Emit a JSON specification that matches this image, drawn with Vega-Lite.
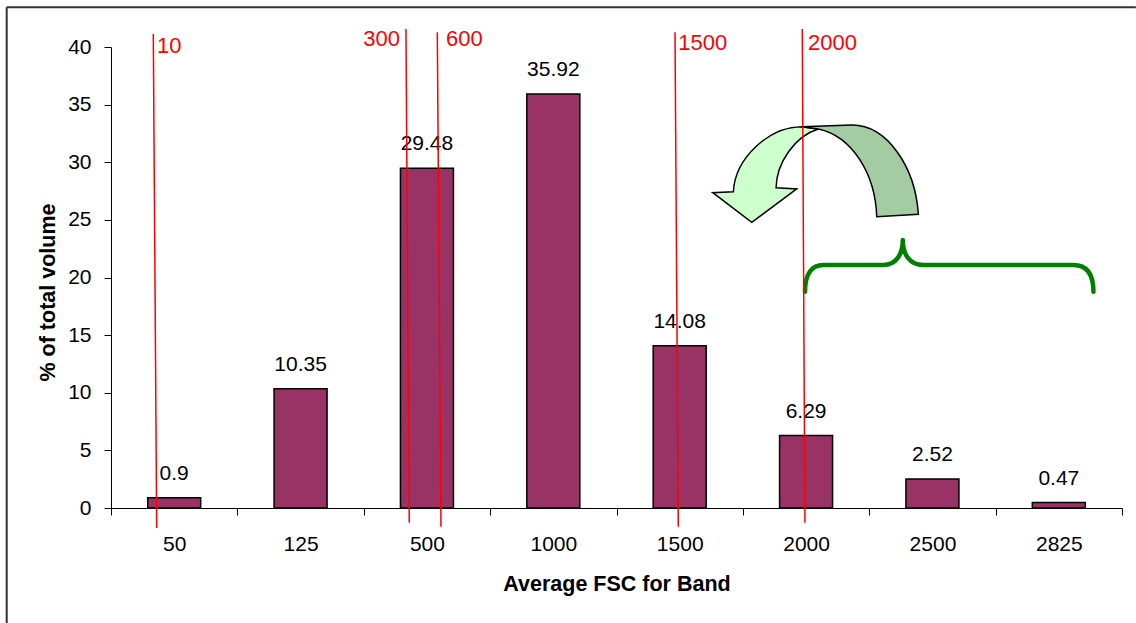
{
  "$schema": "https://vega.github.io/schema/vega-lite/v6.json",
  "width": 1011,
  "height": 461,
  "autosize": {"type": "none"},
  "padding": {"left": 111, "top": 47, "right": 14, "bottom": 115},
  "background": "white",
  "config": {
    "view": {"stroke": null},
    "font": "Liberation Sans",
    "axis": {"labelFont": "Liberation Sans", "titleFont": "Liberation Sans"}
  },
  "datasets": {
    "bars": [
      {"band": "50", "x": 0.5, "y": 0.9},
      {"band": "125", "x": 1.5, "y": 10.35},
      {"band": "500", "x": 2.5, "y": 29.48},
      {"band": "1000", "x": 3.5, "y": 35.92},
      {"band": "1500", "x": 4.5, "y": 14.08},
      {"band": "2000", "x": 5.5, "y": 6.29},
      {"band": "2500", "x": 6.5, "y": 2.52},
      {"band": "2825", "x": 7.5, "y": 0.47}
    ],
    "cuts": [
      {"label": "10", "x": 0.3347, "y": 41.13, "x2": 0.3616, "y2": -1.735},
      {"label": "300", "x": 2.334, "y": 41.56, "x2": 2.360, "y2": -1.28},
      {"label": "600", "x": 2.582, "y": 41.28, "x2": 2.611, "y2": -1.62},
      {"label": "1500", "x": 4.463, "y": 41.28, "x2": 4.489, "y2": -1.62},
      {"label": "2000", "x": 5.470, "y": 41.56, "x2": 5.491, "y2": -1.28}
    ],
    "cutLabelsLeft": [
      {"label": "10", "x": 0.364, "y": 39.45},
      {"label": "600", "x": 2.651, "y": 40.11},
      {"label": "1500", "x": 4.489, "y": 39.74},
      {"label": "2000", "x": 5.515, "y": 39.74}
    ],
    "cutLabelsRight": [
      {"label": "300", "x": 2.287, "y": 40.11}
    ],
    "arrow": [{"x": 5.575, "y": 29.05}],
    "brace": [{"x": 6.633, "y": 21.01}],
    "frame": [
      {"edge": "top", "x": -0.8253, "y": 43.44, "x2": 8.11, "y2": 43.44},
      {"edge": "left", "x": -0.8253, "y": 43.44, "x2": -0.8253, "y2": -9.97}
    ]
  },
  "encoding": {
    "x": {
      "field": "x", "type": "quantitative",
      "scale": {"domain": [0, 8], "nice": false, "zero": false, "padding": 0},
      "axis": {
        "title": "Average FSC for Band",
        "values": [0, 1, 2, 3, 4, 5, 6, 7, 8],
        "labelExpr": "['50','125','500','1000','1500','2000','2500','2825',''][datum.value]",
        "labelOffset": 63.2,
        "labelFlush": false,
        "labelOverlap": false,
        "labelFontSize": 21,
        "labelColor": "#000000",
        "labelPadding": 18,
        "tickSize": 7,
        "tickColor": "#000000",
        "domainColor": "#000000",
        "grid": false,
        "titleFontSize": 21.5,
        "titleFontWeight": "bold",
        "titleColor": "#000000",
        "titlePadding": 19
      }
    },
    "y": {
      "field": "y", "type": "quantitative",
      "scale": {"domain": [0, 40], "nice": false, "zero": false, "padding": 0},
      "axis": {
        "title": "% of total volume",
        "values": [0, 5, 10, 15, 20, 25, 30, 35, 40],
        "labelFontSize": 21,
        "labelColor": "#000000",
        "labelPadding": 13,
        "tickSize": 7,
        "tickColor": "#000000",
        "domainColor": "#000000",
        "grid": false,
        "titleFontSize": 21.5,
        "titleFontWeight": "bold",
        "titleColor": "#000000",
        "titlePadding": 8,
        "titleY": 245
      }
    }
  },
  "layer": [
    {
      "data": {"name": "bars"},
      "mark": {"type": "bar", "orient": "vertical", "width": 53, "color": "#993366", "stroke": "#000000", "strokeWidth": 1.5}
    },
    {
      "data": {"name": "frame"},
      "mark": {"type": "rule", "color": "#333333", "strokeWidth": 2},
      "encoding": {
        "x2": {"field": "x2"},
        "y2": {"field": "y2"}
      }
    },
    {
      "data": {"name": "bars"},
      "mark": {"type": "text", "dy": -18, "baseline": "alphabetic", "fontSize": 21, "color": "#000000", "font": "Liberation Sans"},
      "encoding": {
        "text": {"field": "y", "type": "quantitative", "format": ".2~f"}
      }
    },
    {
      "data": {"name": "arrow"},
      "mark": {
        "type": "point", "filled": true, "opacity": 1, "fill": "#CCFFCC", "stroke": "#000000", "strokeWidth": 1.5,
        "size": 42436,
        "shape": "M-0.134,-0.451 C-0.45,-0.45 -0.78,-0.15 -0.798,0.180 L-0.998,0.189 L-0.619,0.477 L-0.183,0.153 L-0.383,0.141 C-0.38,-0.10 -0.20,-0.36 0.027,-0.429 Z"
      }
    },
    {
      "data": {"name": "arrow"},
      "mark": {
        "type": "point", "filled": true, "opacity": 1, "fill": "#A3CCA3", "stroke": "#000000", "strokeWidth": 1.5,
        "size": 42436,
        "shape": "M-0.134,-0.451 L0.351,-0.468 C0.70,-0.47 0.97,-0.05 0.998,0.399 L0.594,0.422 C0.58,0.0 0.35,-0.36 0.027,-0.429 Z"
      }
    },
    {
      "data": {"name": "brace"},
      "mark": {
        "type": "point", "filled": false, "opacity": 1, "stroke": "#008000", "strokeWidth": 4.5, "strokeCap": "round", "strokeJoin": "round",
        "size": 83175,
        "shape": "M-1,0.179 C-1,0.05 -0.95,-0.006 -0.873,-0.006 L-0.457,-0.006 C-0.37,-0.006 -0.322,-0.08 -0.322,-0.179 C-0.322,-0.08 -0.275,-0.006 -0.180,-0.006 L0.861,-0.006 C0.95,-0.006 1,0.05 1,0.179"
      }
    },
    {
      "data": {"name": "cuts"},
      "mark": {"type": "rule", "color": "#FF0000", "strokeWidth": 1.5},
      "encoding": {
        "x2": {"field": "x2"},
        "y2": {"field": "y2"}
      }
    },
    {
      "data": {"name": "cutLabelsLeft"},
      "mark": {"type": "text", "align": "left", "baseline": "alphabetic", "fontSize": 22, "color": "#FF0000", "font": "Liberation Sans"},
      "encoding": {
        "text": {"field": "label", "type": "nominal"}
      }
    },
    {
      "data": {"name": "cutLabelsRight"},
      "mark": {"type": "text", "align": "right", "baseline": "alphabetic", "fontSize": 22, "color": "#FF0000", "font": "Liberation Sans"},
      "encoding": {
        "text": {"field": "label", "type": "nominal"}
      }
    }
  ]
}
